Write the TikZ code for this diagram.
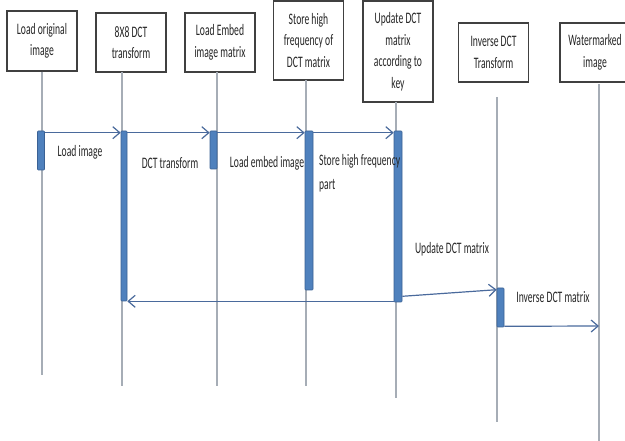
\documentclass[tikz,border=0pt]{standalone}
\usepackage{fontspec}
\setmainfont{Carlito}[FakeStretch=0.6]
\usepackage{xcolor}
\usetikzlibrary{shapes, positioning, arrows.meta}

\definecolor{barblue}{HTML}{4F81BD}
\definecolor{bardark}{HTML}{3A6194}
\definecolor{msgblue}{HTML}{4A6A9C}
\definecolor{lifegray}{HTML}{A6ADB6}

\tikzset{
  box/.style={draw=black!75, line width=1.4pt, fill=white, minimum width=70pt, align=center, inner sep=0pt, text=black!85, font=\fontsize{16}{21.5}\selectfont},
  life/.style={draw=lifegray, line width=1.2pt},
  bar/.style={draw=bardark, fill=barblue, line width=0.6pt, minimum width=7pt, inner sep=0pt, rounded corners=0.8pt},
  msg/.style={draw=msgblue, line width=1.2pt, -{Straight Barb[length=7pt,width=12pt]}},
  lbl/.style={inner sep=0pt, align=left, text=black!85, font=\fontsize{16}{24}\selectfont}
}

\begin{document}
\begin{tikzpicture}[x=1pt, y=-1pt]
        \useasboundingbox (0,0) rectangle (625,441);

        \node[box, minimum height=60pt] (B1) at (42,41) {Load original\\image};
        \node[box, minimum height=59pt] (B2) at (131,42.5) {8X8 DCT\\transform};
        \node[box, minimum height=59pt] (B3) at (220,42.5) {Load Embed\\image matrix};
        \node[box, minimum height=79pt] (B4) at (308.5,40.5) {Store high\\frequency of\\DCT matrix};
        \node[box, minimum height=101pt] (B5) at (398,51.5) {Update DCT\\matrix\\according to\\key};
        \node[box, minimum height=59pt] (B6) at (493.5,52.5) {Inverse DCT\\Transform};
        \node[box, minimum height=59pt] (B7) at (595,52.5) {Watermarked\\image};

        \coordinate (L1) at (42,375);
        \coordinate (T2) at (122,72);
        \coordinate (L2) at (122,386);
        \coordinate (T3) at (217,72);
        \coordinate (L3) at (217,386);
        \coordinate (T4) at (306,80);
        \coordinate (L4) at (306,386);
        \coordinate (T5) at (396,102);
        \coordinate (L5) at (396,398);
        \coordinate (T6) at (497,97);
        \coordinate (L6) at (497,422);
        \coordinate (T7) at (599,84);
        \coordinate (M7) at (599,326);
        \coordinate (L7) at (599,441);

        \draw[life] (B1.south) -- (L1);
        \draw[life] (T2) -- (L2);
        \draw[life] (T3) -- (L3);
        \draw[life] (T4) -- (L4);
        \draw[life] (T5) -- (L5);
        \draw[life] (T6) -- (L6);
        \draw[life] (T7) -- (L7);

        \node[bar, minimum height=39pt] (A1) at (41,150.5) {};
        \node[bar, minimum height=170pt, minimum width=6pt] (A2) at (124,216) {};
        \node[bar, minimum height=38pt] (A3) at (213.5,150) {};
        \node[bar, minimum height=159pt, minimum width=8pt] (A4) at (309,210.5) {};
        \node[bar, minimum height=171pt, minimum width=8pt] (A5) at (398,216.5) {};
        \node[bar, minimum height=39pt] (A6) at (500.5,307.5) {};

        \draw[msg] ([yshift=-2pt]A1.north east) -- ([yshift=-2pt]A2.north west);
        \draw[msg] ([yshift=-2pt]A2.north east) -- ([yshift=-2pt]A3.north west);
        \draw[msg] ([yshift=-2pt]A3.north east) -- ([yshift=-2pt]A4.north west);
        \draw[msg] ([yshift=-2pt]A4.north east) -- ([yshift=-2pt]A5.north west);
        \draw[msg] ([yshift=1pt]A5.south west) -- (A2.south east);
        \draw[msg] ([yshift=6pt]A5.south east) -- ([yshift=-2pt]A6.north west);
        \draw[msg] ([yshift=1pt]A6.south east) -- (M7);

        \node[lbl] (N1) at (80,152) {Load image};
        \node[lbl] (N2) at (170,163) {DCT transform};
        \node[lbl] (N3) at (267,163) {Load embed image};
        \node[lbl, anchor=north west] (N4) at (319,154) {Store high frequency\\part};
        \node[lbl] (N5) at (452,249) {Update DCT matrix};
        \node[lbl] (N6) at (553,297) {Inverse DCT matrix};
      \end{tikzpicture}
\end{document}
